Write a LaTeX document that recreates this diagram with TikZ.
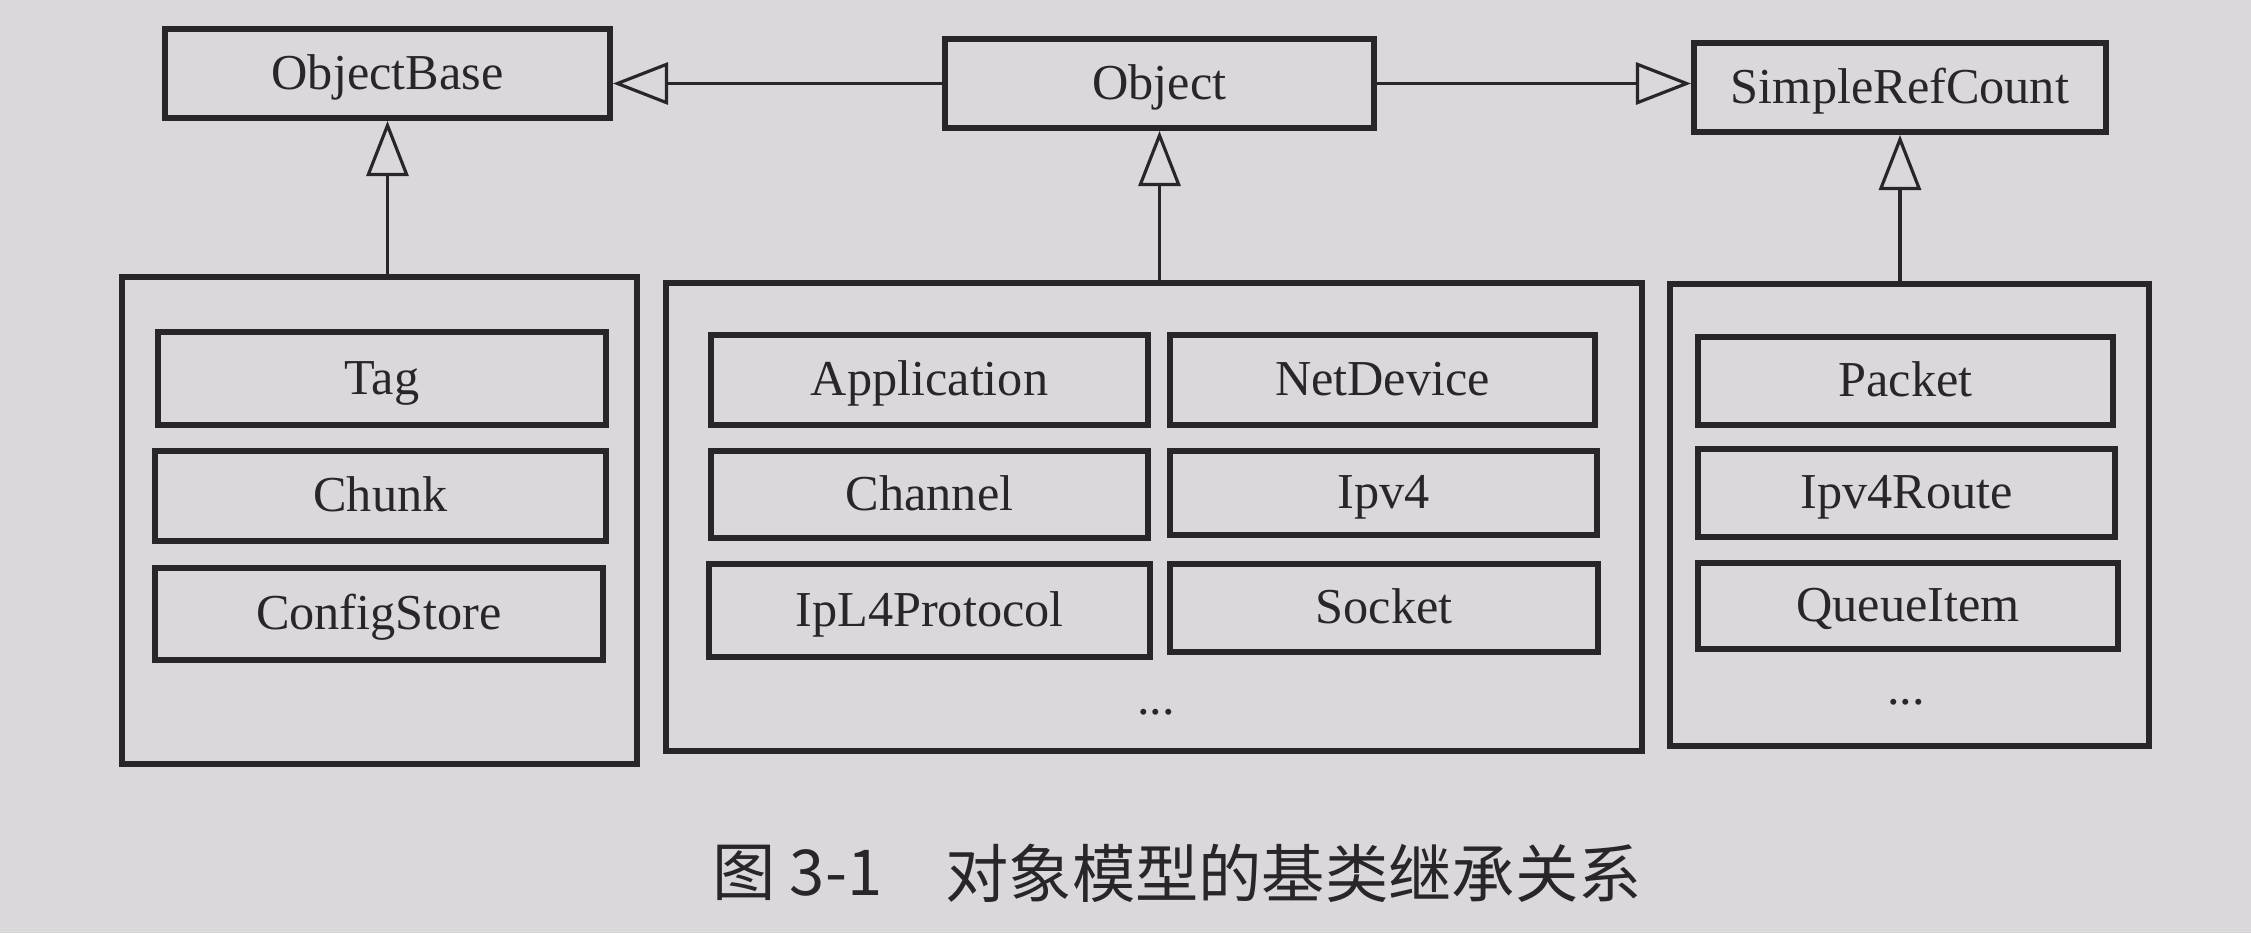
\documentclass[tikz,border=0pt]{standalone}
\usepackage{fontspec}
\setmainfont{Liberation Serif}
\newfontfamily\cjk{Noto Sans CJK SC}
\usetikzlibrary{fit,arrows.meta}
\definecolor{paper}{RGB}{218,216,221}
\definecolor{ink}{RGB}{40,38,40}
\tikzset{
  box/.style={draw=ink, line width=1.7pt, inner sep=0pt},
  cont/.style={draw=ink, line width=1.8pt, inner sep=0pt},
  lbl/.style={font=\fontsize{14.3}{17}\selectfont, text=ink, inner sep=0pt},
  every label/.style={font=\fontsize{14.3}{17}\selectfont, text=ink, inner sep=0pt, text height=10pt, text depth=1pt},
  inh/.style={draw=ink, line width=0.9pt, -{Triangle[open, length=0.55cm, width=0.42cm, line width=0.9pt]}},
}
\begin{document}
\begin{tikzpicture}[x=0.01cm, y=-0.01cm]
\fill[paper] (0,0) rectangle (2251,933);
\useasboundingbox (0,0) rectangle (2251,933);
% top classes
\node[box, fit={(165,29)(610,118)}, label=center:ObjectBase] (objbase) {};
\node[box, fit={(945,39)(1374,128)}, label=center:Object] (obj) {};
\node[box, fit={(1694,43)(2106,132)}, label=center:SimpleRefCount] (src) {};
% containers
\node[cont, fit={(122,277)(637,764)}] (lc) {};
\node[cont, fit={(666,283)(1642,751)}] (mc) {};
\node[cont, fit={(1670,284)(2149,746)}] (rc) {};
% left inner
\node[box, fit={(158,332)(606,425)}, label=center:Tag] (tag) {};
\node[box, fit={(155,451)(606,541)}, label=center:Chunk] (chunk) {};
\node[box, fit={(155,568)(603,660)}, label=center:ConfigStore] (cfg) {};
% middle inner
\node[box, fit={(711,335)(1148,425)}, label=center:Application] (app) {};
\node[box, fit={(1170,335)(1595,425)}, label=center:NetDevice] (nd) {};
\node[box, fit={(711,451)(1148,538)}, label=center:Channel] (chan) {};
\node[box, fit={(1170,451)(1597,535)}, label=center:Ipv4] (ipv4) {};
\node[box, fit={(709,564)(1150,657)}, label=center:IpL4Protocol] (ipl4) {};
\node[box, fit={(1170,564)(1598,652)}, label=center:Socket] (sock) {};
\node[lbl] (mdots) at (1156,712) {...};
% right inner
\node[box, fit={(1698,337)(2113,425)}, label=center:Packet] (pkt) {};
\node[box, fit={(1698,449)(2115,537)}, label=center:Ipv4Route] (route) {};
\node[box, fit={(1698,563)(2118,649)}, label=center:QueueItem] (qi) {};
\node[lbl] (rdots) at (1906,702) {...};
% inheritance
\draw[inh] (obj.west) -- (obj.west -| objbase.east);
\draw[inh] (obj.east) -- (obj.east -| src.west);
\draw[inh] (objbase.south |- lc.north) -- (objbase.south);
\draw[inh] (obj.south |- mc.north) -- (obj.south);
\draw[inh] (src.south |- rc.north) -- (src.south);
% caption
\node[font=\fontsize{18}{21}\selectfont, text=ink, anchor=west] (fig) at (700,873) {\cjk 图 3-1};
\node[font=\fontsize{18}{21}\selectfont, text=ink, anchor=west] (cap) at (933,873) {\cjk 对象模型的基类继承关系};
\end{tikzpicture}
\end{document}
